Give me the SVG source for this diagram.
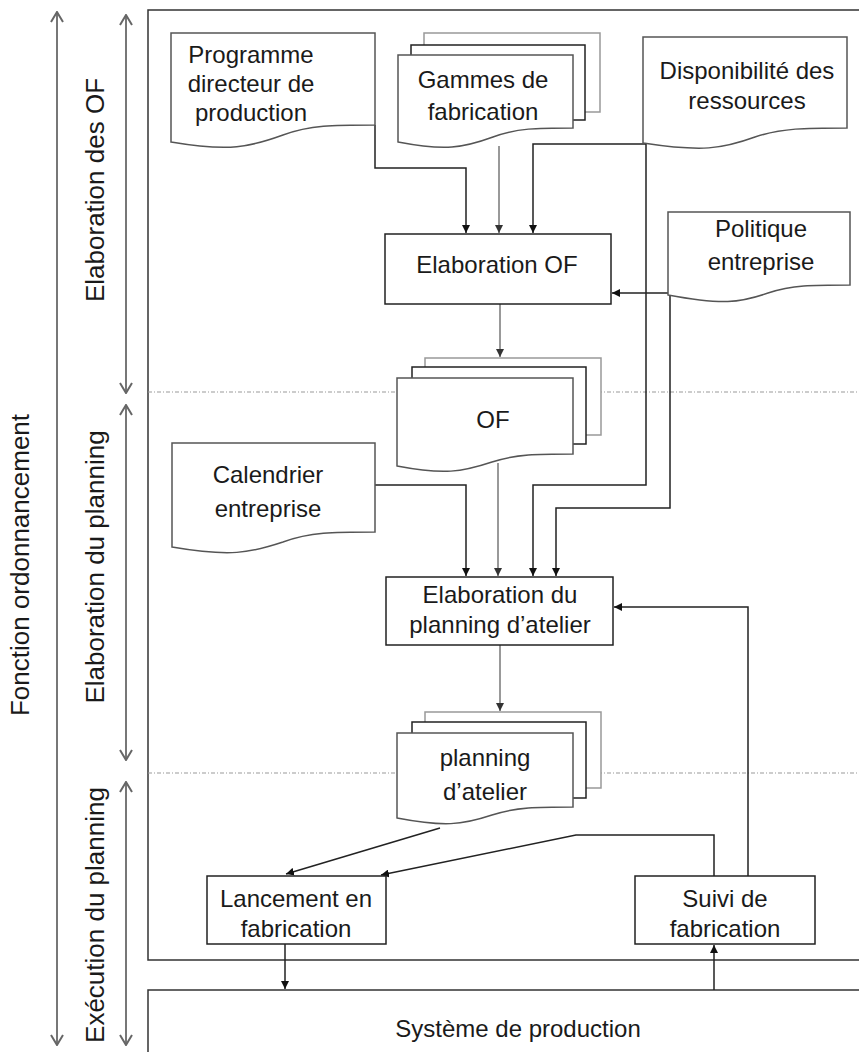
<svg xmlns="http://www.w3.org/2000/svg" width="859" height="1052" viewBox="0 0 859 1052">
<defs>
<style>
.t{font-family:"Liberation Sans",Arial,sans-serif;font-size:24px;fill:#1a1a1a;text-anchor:middle}
.lt{font-family:"Liberation Sans",Arial,sans-serif;font-size:26px;fill:#1a1a1a;text-anchor:middle}
.box{fill:#fff;stroke:#222;stroke-width:1.5}
.doc{fill:#fff;stroke:#555;stroke-width:1.5}
.back{fill:#fff;stroke:#999;stroke-width:1.5}
.mid{fill:#fff;stroke:#222;stroke-width:1.5}
.c{fill:none;stroke:#222;stroke-width:1.5}
.cg{fill:none;stroke:#777;stroke-width:1.5}
.frame{fill:none;stroke:#333;stroke-width:1.5}
.dot{stroke:#999;stroke-width:1.2;stroke-dasharray:4 2 1 2}
.dim{fill:none;stroke:#777;stroke-width:2}
</style>
<marker id="ah" viewBox="0 0 8 8" refX="8" refY="4" markerWidth="8" markerHeight="8" markerUnits="userSpaceOnUse" orient="auto">
<path d="M0,0 L8,4 L0,8 z" fill="#111"/>
</marker>
<marker id="ahg" viewBox="0 0 8 8" refX="8" refY="4" markerWidth="8" markerHeight="8" markerUnits="userSpaceOnUse" orient="auto">
<path d="M0,0 L8,4 L0,8 z" fill="#333"/>
</marker>
<marker id="open" viewBox="0 0 12 14" refX="11" refY="7" markerWidth="12" markerHeight="14" markerUnits="userSpaceOnUse" orient="auto-start-reverse">
<path d="M1,1 L11,7 L1,13" fill="none" stroke="#666" stroke-width="2"/>
</marker>
</defs>
<rect width="859" height="1052" fill="#fff"/>

<g id="frame">
<path class="frame" d="M859,10 H148 V960 H859"/>
<path class="frame" d="M859,990 H148 V1052"/>
<line class="dot" x1="148" y1="392" x2="859" y2="392"/>
<line class="dot" x1="148" y1="773" x2="859" y2="773"/>
</g>

<g id="axes">
<line class="dim" x1="57" y1="12" x2="57" y2="1045" marker-start="url(#open)" marker-end="url(#open)"/>
<line class="dim" x1="126" y1="15" x2="126" y2="393" marker-start="url(#open)" marker-end="url(#open)"/>
<line class="dim" x1="126" y1="405" x2="126" y2="760" marker-start="url(#open)" marker-end="url(#open)"/>
<line class="dim" x1="126" y1="782" x2="126" y2="1045" marker-start="url(#open)" marker-end="url(#open)"/>
<text class="lt" transform="translate(29,565) rotate(-90)">Fonction ordonnancement</text>
<text class="lt" transform="translate(104,190) rotate(-90)">Elaboration des OF</text>
<text class="lt" transform="translate(104,567) rotate(-90)">Elaboration du planning</text>
<text class="lt" transform="translate(104,915) rotate(-90)">Exécution du planning</text>
</g>

<g id="connectors">
<path class="c" d="M375,125 V168 H466 V233" marker-end="url(#ah)"/>
<path class="cg" d="M499,146 V233" marker-end="url(#ahg)"/>
<path class="c" d="M646,144 H533 V233" marker-end="url(#ah)"/>
<path class="c" d="M646,144 V485 H533 V576" marker-end="url(#ah)"/>
<path class="c" d="M668,293 H612" marker-end="url(#ah)"/>
<path class="c" d="M670,295 V508 H556 V576" marker-end="url(#ah)"/>
<path class="cg" d="M500,304 V357" marker-end="url(#ahg)"/>
<path class="cg" d="M498,463 V576" marker-end="url(#ahg)"/>
<path class="c" d="M375,485 H466 V576" marker-end="url(#ah)"/>
<path class="cg" d="M500,645 V711" marker-end="url(#ahg)"/>
<path class="c" d="M440,828 L286,874" marker-end="url(#ah)"/>
<path class="c" d="M714,876 V835 H576 L381,875" marker-end="url(#ah)"/>
<path class="c" d="M748,876 V607 H614" marker-end="url(#ah)"/>
<path class="c" d="M285,944 V989" marker-end="url(#ah)"/>
<path class="c" d="M714,990 V945" marker-end="url(#ah)"/>
</g>

<g id="programme">
<path class="doc" d="M171,142 V33 H375 V125 C333,125 310,125 283,135 C250,147 230,152 171,142 Z"/>
<text class="t" x="251" y="63">Programme</text>
<text class="t" x="251" y="92">directeur de</text>
<text class="t" x="251" y="121">production</text>
</g>

<g id="gammes">
<rect class="back" x="424" y="33" width="176" height="79"/>
<rect class="mid" x="411" y="45" width="174" height="75"/>
<path class="doc" d="M398,142 V55 H573 V128 C537,128 517,128 493,137 C463,148 445,151 398,142 Z"/>
<text class="t" x="483" y="88">Gammes de</text>
<text class="t" x="483" y="120">fabrication</text>
</g>

<g id="disponibilite">
<path class="doc" d="M643,143 V37 H847 V128 C805,128 782,128 755,137 C722,149 702,152 643,143 Z"/>
<text class="t" x="747" y="79">Disponibilité des</text>
<text class="t" x="747" y="109">ressources</text>
</g>

<g id="politique">
<path class="doc" d="M668,295 V212 H850 V285 C812,285 792,285 768,293 C740,303 722,305 668,295 Z"/>
<text class="t" x="761" y="237">Politique</text>
<text class="t" x="761" y="270">entreprise</text>
</g>

<g id="elaboration-of">
<rect class="box" x="385" y="234" width="226" height="70"/>
<text class="t" x="497" y="273">Elaboration OF</text>
</g>

<g id="of">
<rect class="back" x="425" y="358" width="176" height="77"/>
<rect class="mid" x="412" y="367" width="174" height="77"/>
<path class="doc" d="M397,466 V378 H573 V454 C537,454 517,454 492,462 C462,472 444,475 397,466 Z"/>
<text class="t" x="493" y="428">OF</text>
</g>

<g id="calendrier">
<path class="doc" d="M172,547 V443 H375 V532 C333,532 310,532 283,542 C250,553 230,557 172,547 Z"/>
<text class="t" x="268" y="483">Calendrier</text>
<text class="t" x="268" y="517">entreprise</text>
</g>

<g id="elaboration-planning">
<rect class="box" x="386" y="577" width="227" height="68"/>
<text class="t" x="500" y="603">Elaboration du</text>
<text class="t" x="500" y="633">planning d’atelier</text>
</g>

<g id="planning-atelier">
<rect class="back" x="425" y="712" width="176" height="76"/>
<rect class="mid" x="412" y="722" width="174" height="76"/>
<path class="doc" d="M397,818 V733 H573 V807 C537,807 517,807 492,815 C462,825 444,827 397,818 Z"/>
<text class="t" x="485" y="766">planning</text>
<text class="t" x="485" y="800">d’atelier</text>
</g>

<g id="lancement">
<rect class="box" x="207" y="876" width="179" height="68"/>
<text class="t" x="296" y="907">Lancement en</text>
<text class="t" x="296" y="937">fabrication</text>
</g>

<g id="suivi">
<rect class="box" x="635" y="876" width="180" height="68"/>
<text class="t" x="725" y="907">Suivi de</text>
<text class="t" x="725" y="937">fabrication</text>
</g>

<g id="systeme">
<text class="t" x="518" y="1037">Système de production</text>
</g>
</svg>
